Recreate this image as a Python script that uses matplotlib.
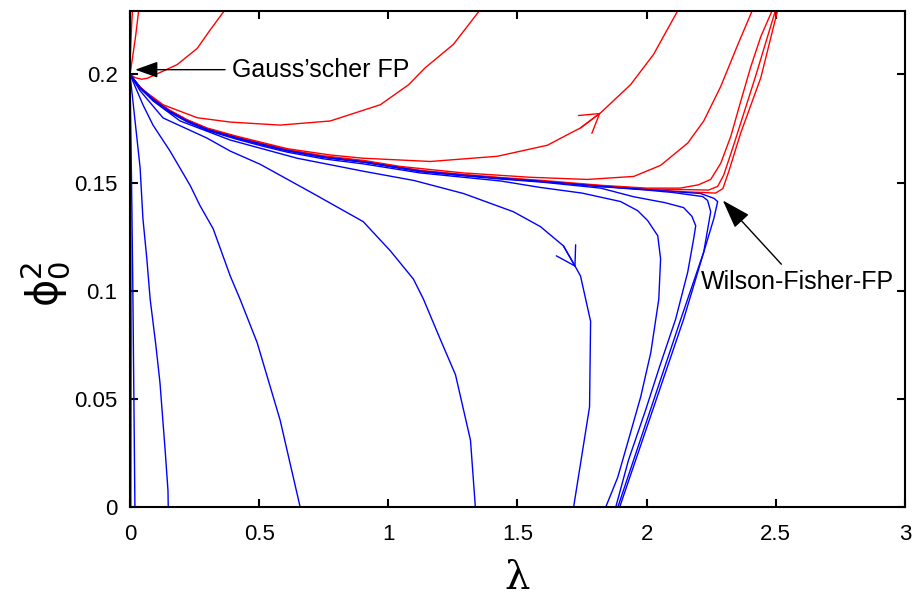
import matplotlib
matplotlib.use('Agg')
import matplotlib.pyplot as plt

plt.rcParams['font.family'] = ['Liberation Sans', 'DejaVu Sans']

# red flow lines (run away upwards)
ra_x = [0, 0.002, 0.006, 0.01]
ra_y = [0.2, 0.21, 0.222, 0.231]
rb_x = [0, 0.01, 0.022, 0.035]
rb_y = [0.2, 0.208, 0.218, 0.231]
r2_x = [0, 0.02, 0.045, 0.066, 0.1, 0.182, 0.26, 0.31, 0.375]
r2_y = [0.2, 0.1985, 0.1978, 0.1982, 0.2, 0.2045, 0.212, 0.2205, 0.231]
r3_x = [0, 0.039, 0.128, 0.26, 0.388, 0.581, 0.775, 0.969, 1.078, 1.143, 1.252, 1.357]
r3_y = [0.2, 0.1939, 0.186, 0.18, 0.178, 0.1766, 0.1785, 0.186, 0.1952, 0.2031, 0.2139, 0.2301]
r4_x = [0, 0.02, 0.039, 0.089, 0.15, 0.221, 0.3, 0.415, 0.609, 0.775, 0.903, 1.163, 1.422, 1.616,
        1.705, 1.744, 1.822, 1.938, 2.027, 2.124]
r4_y = [0.2, 0.197, 0.1942, 0.1889, 0.1837, 0.1791, 0.1752, 0.1714, 0.1657, 0.1628, 0.1613, 0.1598,
        0.1622, 0.1673, 0.1729, 0.1753, 0.1823, 0.1953, 0.2093, 0.2302]
r5_x = [0, 0.02, 0.039, 0.089, 0.15, 0.221, 0.3, 0.415, 0.516, 0.609, 0.75, 0.903, 1.047, 1.291,
        1.55, 1.771, 1.95, 2.054, 2.159, 2.221, 2.287, 2.353, 2.411]
r5_y = [0.2, 0.1969, 0.1941, 0.1888, 0.1836, 0.1789, 0.1749, 0.1711, 0.168, 0.1653, 0.1624, 0.1603,
        0.1575, 0.1545, 0.1525, 0.1515, 0.1529, 0.158, 0.1683, 0.1785, 0.1945, 0.2138, 0.2301]
r6_x = [0, 0.02, 0.039, 0.089, 0.15, 0.221, 0.3, 0.415, 0.516, 0.609, 0.75, 0.903, 1.124, 1.291,
        1.434, 1.6, 1.822, 2.0, 2.13, 2.2, 2.248, 2.287, 2.326, 2.364, 2.403, 2.442, 2.488]
r6_y = [0.2, 0.1968, 0.194, 0.1886, 0.1834, 0.1787, 0.1747, 0.1708, 0.1677, 0.165, 0.162, 0.1599,
        0.1557, 0.1538, 0.1524, 0.151, 0.1488, 0.1475, 0.1475, 0.149, 0.1515, 0.159, 0.1715, 0.1875,
        0.2035, 0.2175, 0.2301]
r7_x = [0, 0.02, 0.039, 0.089, 0.15, 0.221, 0.3, 0.415, 0.516, 0.609, 0.75, 0.903, 1.124, 1.291,
        1.434, 1.6, 1.822, 2.0, 2.15, 2.24, 2.275, 2.298, 2.337, 2.42, 2.5]
r7_y = [0.2, 0.1968, 0.1939, 0.1886, 0.1833, 0.1786, 0.1746, 0.1707, 0.1676, 0.1649, 0.1619, 0.1598,
        0.1555, 0.1536, 0.1522, 0.1507, 0.1486, 0.1471, 0.1468, 0.1466, 0.1483, 0.1534, 0.1674,
        0.1985, 0.2301]
r8_x = [0, 0.02, 0.039, 0.089, 0.15, 0.221, 0.3, 0.415, 0.516, 0.609, 0.75, 0.903, 1.124, 1.291,
        1.434, 1.6, 1.822, 2.0, 2.15, 2.267, 2.295, 2.318, 2.364, 2.442, 2.508]
r8_y = [0.2, 0.1968, 0.1939, 0.1885, 0.1833, 0.1786, 0.1746, 0.1707, 0.1676, 0.1649, 0.1619, 0.1597,
        0.1554, 0.1535, 0.1521, 0.1506, 0.1484, 0.1469, 0.1458, 0.1452, 0.1473, 0.1552, 0.1729,
        0.1985, 0.2301]

# blue flow lines (run down to phi0^2 = 0)
b0_x = [0, 0.002, 0.004, 0.003]
b0_y = [0.2, 0.15, 0.08, 0.0]
b1_x = [0, 0.006, 0.011, 0.015, 0.019]
b1_y = [0.2, 0.15, 0.1, 0.05, 0.0]
b2_x = [0, 0.02, 0.039, 0.05, 0.065, 0.078, 0.1, 0.116, 0.136, 0.147, 0.148]
b2_y = [0.2, 0.178, 0.157, 0.1334, 0.115, 0.0962, 0.075, 0.0576, 0.0264, 0.0078, 0.0]
b3_x = [0, 0.05, 0.089, 0.155, 0.233, 0.271, 0.322, 0.388, 0.426, 0.492, 0.581, 0.659]
b3_y = [0.2, 0.186, 0.1766, 0.1646, 0.1487, 0.1394, 0.1287, 0.1069, 0.0962, 0.0762, 0.0404, 0.0]
b4_x = [0, 0.039, 0.128, 0.298, 0.388, 0.504, 0.709, 0.903, 1.008, 1.097, 1.136, 1.2, 1.26, 1.318, 1.337]
b4_y = [0.2, 0.1925, 0.1799, 0.1706, 0.1646, 0.1585, 0.145, 0.132, 0.1185, 0.1055, 0.0962, 0.078,
        0.0613, 0.0311, 0.0]
b5_x = [0, 0.039, 0.089, 0.194, 0.388, 0.647, 0.903, 1.1, 1.291, 1.484, 1.589, 1.678, 1.725, 1.744,
        1.783, 1.779, 1.717]
b5_y = [0.2, 0.1938, 0.1878, 0.1785, 0.1697, 0.1613, 0.1553, 0.151, 0.145, 0.1366, 0.1297, 0.1208,
        0.111, 0.1069, 0.086, 0.0465, 0.0]
b6_x = [0, 0.02, 0.039, 0.089, 0.15, 0.221, 0.3, 0.415, 0.516, 0.609, 0.75, 0.903, 1.124, 1.291,
        1.434, 1.589, 1.75, 1.899, 1.965, 2.004, 2.043, 2.054, 2.047, 2.016, 1.977, 1.926, 1.888, 1.841]
b6_y = [0.2, 0.1966, 0.1936, 0.1881, 0.1828, 0.1781, 0.1741, 0.17, 0.1668, 0.1641, 0.161, 0.1587,
        0.1545, 0.1525, 0.1508, 0.1478, 0.1452, 0.1413, 0.1371, 0.1325, 0.1255, 0.1148, 0.0962,
        0.0715, 0.0511, 0.0297, 0.0139, 0.0]
b7_x = [0, 0.02, 0.039, 0.089, 0.15, 0.221, 0.3, 0.415, 0.516, 0.609, 0.75, 0.903, 1.124, 1.291,
        1.434, 1.6, 1.822, 1.95, 2.07, 2.143, 2.175, 2.19, 2.182, 2.159, 2.112, 2.05, 1.996, 1.93, 1.88]
b7_y = [0.2, 0.1967, 0.1938, 0.1884, 0.1831, 0.1784, 0.1744, 0.1705, 0.1674, 0.1647, 0.1617, 0.1595,
        0.1551, 0.1532, 0.1517, 0.1502, 0.1475, 0.1435, 0.1408, 0.1385, 0.1345, 0.1301, 0.1241,
        0.1087, 0.0869, 0.065, 0.045, 0.022, 0.0]
b8_x = [0, 0.02, 0.039, 0.089, 0.15, 0.221, 0.3, 0.415, 0.516, 0.609, 0.75, 0.903, 1.124, 1.291,
        1.434, 1.6, 1.822, 2.0, 2.1, 2.217, 2.236, 2.248, 2.221, 2.132, 1.888]
b8_y = [0.2, 0.1968, 0.1939, 0.1885, 0.1832, 0.1785, 0.1745, 0.1706, 0.1675, 0.1648, 0.1618, 0.1596,
        0.1553, 0.1534, 0.152, 0.1505, 0.1482, 0.1466, 0.1455, 0.1436, 0.1418, 0.1366, 0.118, 0.0869, 0.0]
b9_x = [0, 0.02, 0.039, 0.089, 0.15, 0.221, 0.3, 0.415, 0.516, 0.609, 0.75, 0.903, 1.124, 1.291,
        1.434, 1.6, 1.822, 2.0, 2.209, 2.26, 2.275, 2.26, 2.143, 1.895]
b9_y = [0.2, 0.1968, 0.1939, 0.1885, 0.1832, 0.1785, 0.1745, 0.1706, 0.1675, 0.1648, 0.1618, 0.1596,
        0.1553, 0.1534, 0.152, 0.1505, 0.1483, 0.1468, 0.145, 0.1428, 0.1413, 0.1334, 0.0869, 0.0]

red_lines = [(ra_x, ra_y), (rb_x, rb_y), (r2_x, r2_y), (r3_x, r3_y), (r4_x, r4_y),
             (r5_x, r5_y), (r6_x, r6_y), (r7_x, r7_y), (r8_x, r8_y)]
blue_lines = [(b0_x, b0_y), (b1_x, b1_y), (b2_x, b2_y), (b3_x, b3_y), (b4_x, b4_y),
              (b5_x, b5_y), (b6_x, b6_y), (b7_x, b7_y), (b8_x, b8_y), (b9_x, b9_y)]

x_ticks = [0, 0.5, 1, 1.5, 2, 2.5, 3]
x_labels = ['0', '0.5', '1', '1.5', '2', '2.5', '3']
y_ticks = [0, 0.05, 0.1, 0.15, 0.2]
y_labels = ['0', '0.05', '0.1', '0.15', '0.2']

gauss_fp = (0.02, 0.2022)
gauss_text = (0.395, 0.2022)
wf_fp = (2.295, 0.1418)
wf_text = (2.585, 0.1041)

fig = plt.figure(figsize=(9.13, 6.04), dpi=100)
ax = fig.add_axes([0.1424, 0.1598, 0.8488, 0.822])

for xs, ys in red_lines:
    ax.plot(xs, ys, color='#ff0000', lw=1.0)
for xs, ys in blue_lines:
    ax.plot(xs, ys, color='#0000ff', lw=1.0)

# open arrowheads showing the flow direction
i = r4_x.index(1.822)
ax.annotate('', xy=(r4_x[i], r4_y[i]), xytext=(r4_x[i - 1], r4_y[i - 1]),
            arrowprops=dict(arrowstyle='->,head_length=13,head_width=8', mutation_scale=1,
                            color='#ff0000', lw=1.0, shrinkA=0, shrinkB=0))
i = b5_x.index(1.725)
ax.annotate('', xy=(b5_x[i], b5_y[i]), xytext=(b5_x[i - 1], b5_y[i - 1]),
            arrowprops=dict(arrowstyle='->,head_length=13,head_width=8', mutation_scale=1,
                            color='#0000ff', lw=1.0, shrinkA=0, shrinkB=0))

ax.annotate('Gauss\u2019scher FP', xy=gauss_fp, xytext=gauss_text, fontsize=18,
            ha='left', va='center',
            arrowprops=dict(arrowstyle='-|>,head_length=14,head_width=5', mutation_scale=1,
                            color='black', lw=1.0, shrinkA=3, shrinkB=0))
ax.annotate('Wilson-Fisher-FP', xy=wf_fp, xytext=wf_text, fontsize=18,
            ha='center', va='center',
            arrowprops=dict(arrowstyle='-|>,head_length=18,head_width=6', mutation_scale=1,
                            color='black', lw=1.0, shrinkA=3, shrinkB=0))

ax.set_xlim(0, 3)
ax.set_ylim(0, 0.2293)
ax.set_xticks(x_ticks)
ax.set_xticklabels(x_labels)
ax.set_yticks(y_ticks)
ax.set_yticklabels(y_labels)
ax.tick_params(direction='in', top=True, right=True, length=6, width=1.5, labelsize=16)
ax.tick_params(axis='x', pad=12)
ax.tick_params(axis='y', pad=9)
for sp in ax.spines.values():
    sp.set_linewidth(1.5)

ax.set_xlabel('\u03bb', fontsize=29, family='DejaVu Serif')
ax.xaxis.set_label_coords(0.5, -0.105)
ax.set_ylabel(r'$\mathrm{\phi}_0^2$', fontsize=30)
ax.yaxis.set_label_coords(-0.075, 0.45)

fig.savefig('out.png', dpi=100)
